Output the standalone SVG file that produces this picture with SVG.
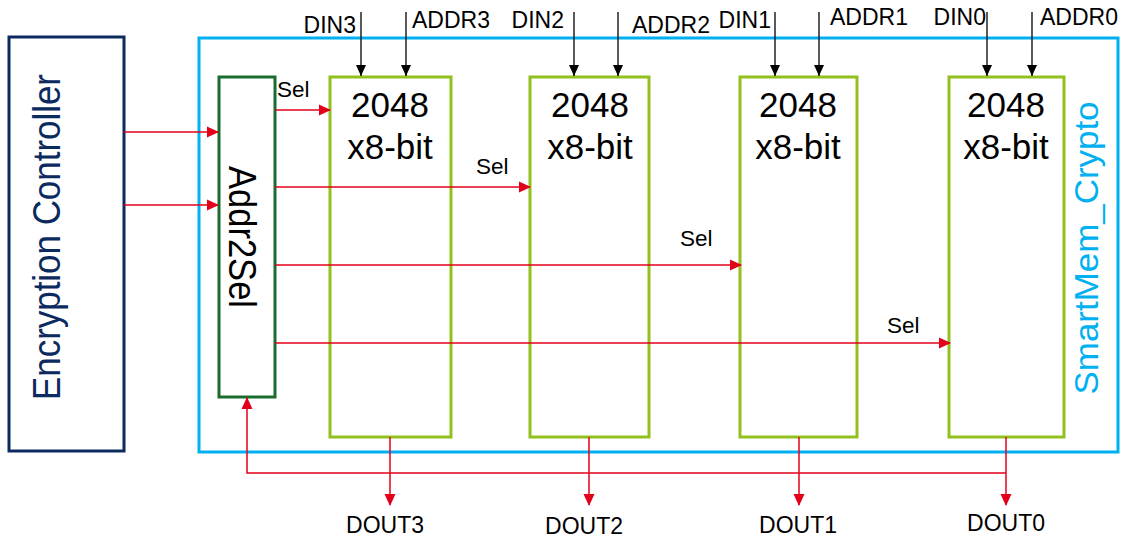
<svg xmlns="http://www.w3.org/2000/svg" width="1126" height="539" viewBox="0 0 1126 539">
<defs>
<marker id="ar" markerWidth="12" markerHeight="12" refX="11" refY="6" orient="auto" markerUnits="userSpaceOnUse"><path d="M0,0.5 L12,6 L0,11.5 z" fill="#e3001b"/></marker>
<marker id="ab" markerWidth="12" markerHeight="12" refX="11" refY="6" orient="auto" markerUnits="userSpaceOnUse"><path d="M0,1 L11,6 L0,11 z" fill="#000"/></marker>
</defs>
<style>
text{font-family:"Liberation Sans",Arial,sans-serif}
.mem{fill:#fff;stroke:#92c01f;stroke-width:3}
.big{font-size:35px;fill:#000;text-anchor:middle}
.lbl{font-size:23px;fill:#000}
.sel{font-size:22.5px;fill:#000}
.red{stroke:#e3001b;stroke-width:1.5;fill:none;marker-end:url(#ar)}
.blk{stroke:#000;stroke-width:1.3;fill:none;marker-end:url(#ab)}
</style>
<rect width="1126" height="539" fill="#fff"/>
<g id="enc">
<rect x="9" y="37" width="115" height="414" fill="#fff" stroke="#0b2a5e" stroke-width="3"/>
<text x="0" y="0" transform="translate(59.5,237) rotate(-90)" text-anchor="middle" font-size="38" fill="#0b2a5e" textLength="326" lengthAdjust="spacingAndGlyphs">Encryption Controller</text>
</g>
<g id="smartmem">
<rect x="199" y="38" width="919" height="414" fill="none" stroke="#00b0f0" stroke-width="3"/>
<text x="0" y="0" transform="translate(1097.5,248) rotate(-90)" text-anchor="middle" font-size="34" fill="#00b0f0" textLength="293" lengthAdjust="spacingAndGlyphs">SmartMem_Crypto</text>
</g>
<g id="addr2sel">
<rect x="219" y="77" width="56" height="320" fill="#fff" stroke="#1a6b2e" stroke-width="3"/>
<text x="0" y="0" transform="translate(229,237) rotate(90)" text-anchor="middle" font-size="39" fill="#000" textLength="142" lengthAdjust="spacingAndGlyphs">Addr2Sel</text>
</g>
<g id="mem3">
<rect class="mem" x="330" y="77" width="121" height="360"/>
<text class="big" x="390" y="117">2048</text>
<text class="big" x="390" y="159">x8-bit</text>
</g>
<g id="mem2">
<rect class="mem" x="530" y="77" width="119" height="360"/>
<text class="big" x="590" y="117">2048</text>
<text class="big" x="590" y="159">x8-bit</text>
</g>
<g id="mem1">
<rect class="mem" x="740" y="77" width="117" height="360"/>
<text class="big" x="798" y="117">2048</text>
<text class="big" x="798" y="159">x8-bit</text>
</g>
<g id="mem0">
<rect class="mem" x="949" y="77" width="115" height="360"/>
<text class="big" x="1006" y="117">2048</text>
<text class="big" x="1006" y="159">x8-bit</text>
</g>
<g id="connectors">
<line class="red" x1="124" y1="132" x2="218" y2="132"/>
<line class="red" x1="124" y1="205" x2="218" y2="205"/>
<line class="red" x1="275" y1="110" x2="330" y2="110"/>
<line class="red" x1="275" y1="187" x2="530" y2="187"/>
<line class="red" x1="275" y1="265" x2="741" y2="265"/>
<line class="red" x1="275" y1="343" x2="950" y2="343"/>
<line class="blk" x1="361" y1="12" x2="361" y2="76"/>
<line class="blk" x1="406" y1="12" x2="406" y2="76"/>
<line class="blk" x1="574" y1="12" x2="574" y2="76"/>
<line class="blk" x1="618" y1="12" x2="618" y2="76"/>
<line class="blk" x1="775" y1="12" x2="775" y2="76"/>
<line class="blk" x1="819" y1="12" x2="819" y2="76"/>
<line class="blk" x1="987" y1="12" x2="987" y2="76"/>
<line class="blk" x1="1032" y1="12" x2="1032" y2="76"/>
<line class="red" x1="390" y1="437" x2="390" y2="505"/>
<line class="red" x1="589" y1="437" x2="589" y2="505"/>
<line class="red" x1="799" y1="437" x2="799" y2="505"/>
<line class="red" x1="1006" y1="437" x2="1006" y2="505"/>
<polyline class="red" points="1006,473 247,473 247,398"/>
</g>
<g id="labels">
<text class="sel" x="277" y="97">Sel</text>
<text class="sel" x="476" y="174">Sel</text>
<text class="sel" x="680" y="246">Sel</text>
<text class="sel" x="887" y="333">Sel</text>
<text class="lbl" x="356" y="33" text-anchor="end">DIN3</text>
<text class="lbl" x="412" y="28">ADDR3</text>
<text class="lbl" x="564" y="28" text-anchor="end">DIN2</text>
<text class="lbl" x="632" y="33">ADDR2</text>
<text class="lbl" x="771" y="28" text-anchor="end">DIN1</text>
<text class="lbl" x="830" y="25">ADDR1</text>
<text class="lbl" x="986" y="25" text-anchor="end">DIN0</text>
<text class="lbl" x="1040" y="25">ADDR0</text>
<text class="lbl" x="385" y="533" text-anchor="middle">DOUT3</text>
<text class="lbl" x="584" y="534" text-anchor="middle">DOUT2</text>
<text class="lbl" x="798" y="533" text-anchor="middle">DOUT1</text>
<text class="lbl" x="1006" y="531" text-anchor="middle">DOUT0</text>
</g>
</svg>
